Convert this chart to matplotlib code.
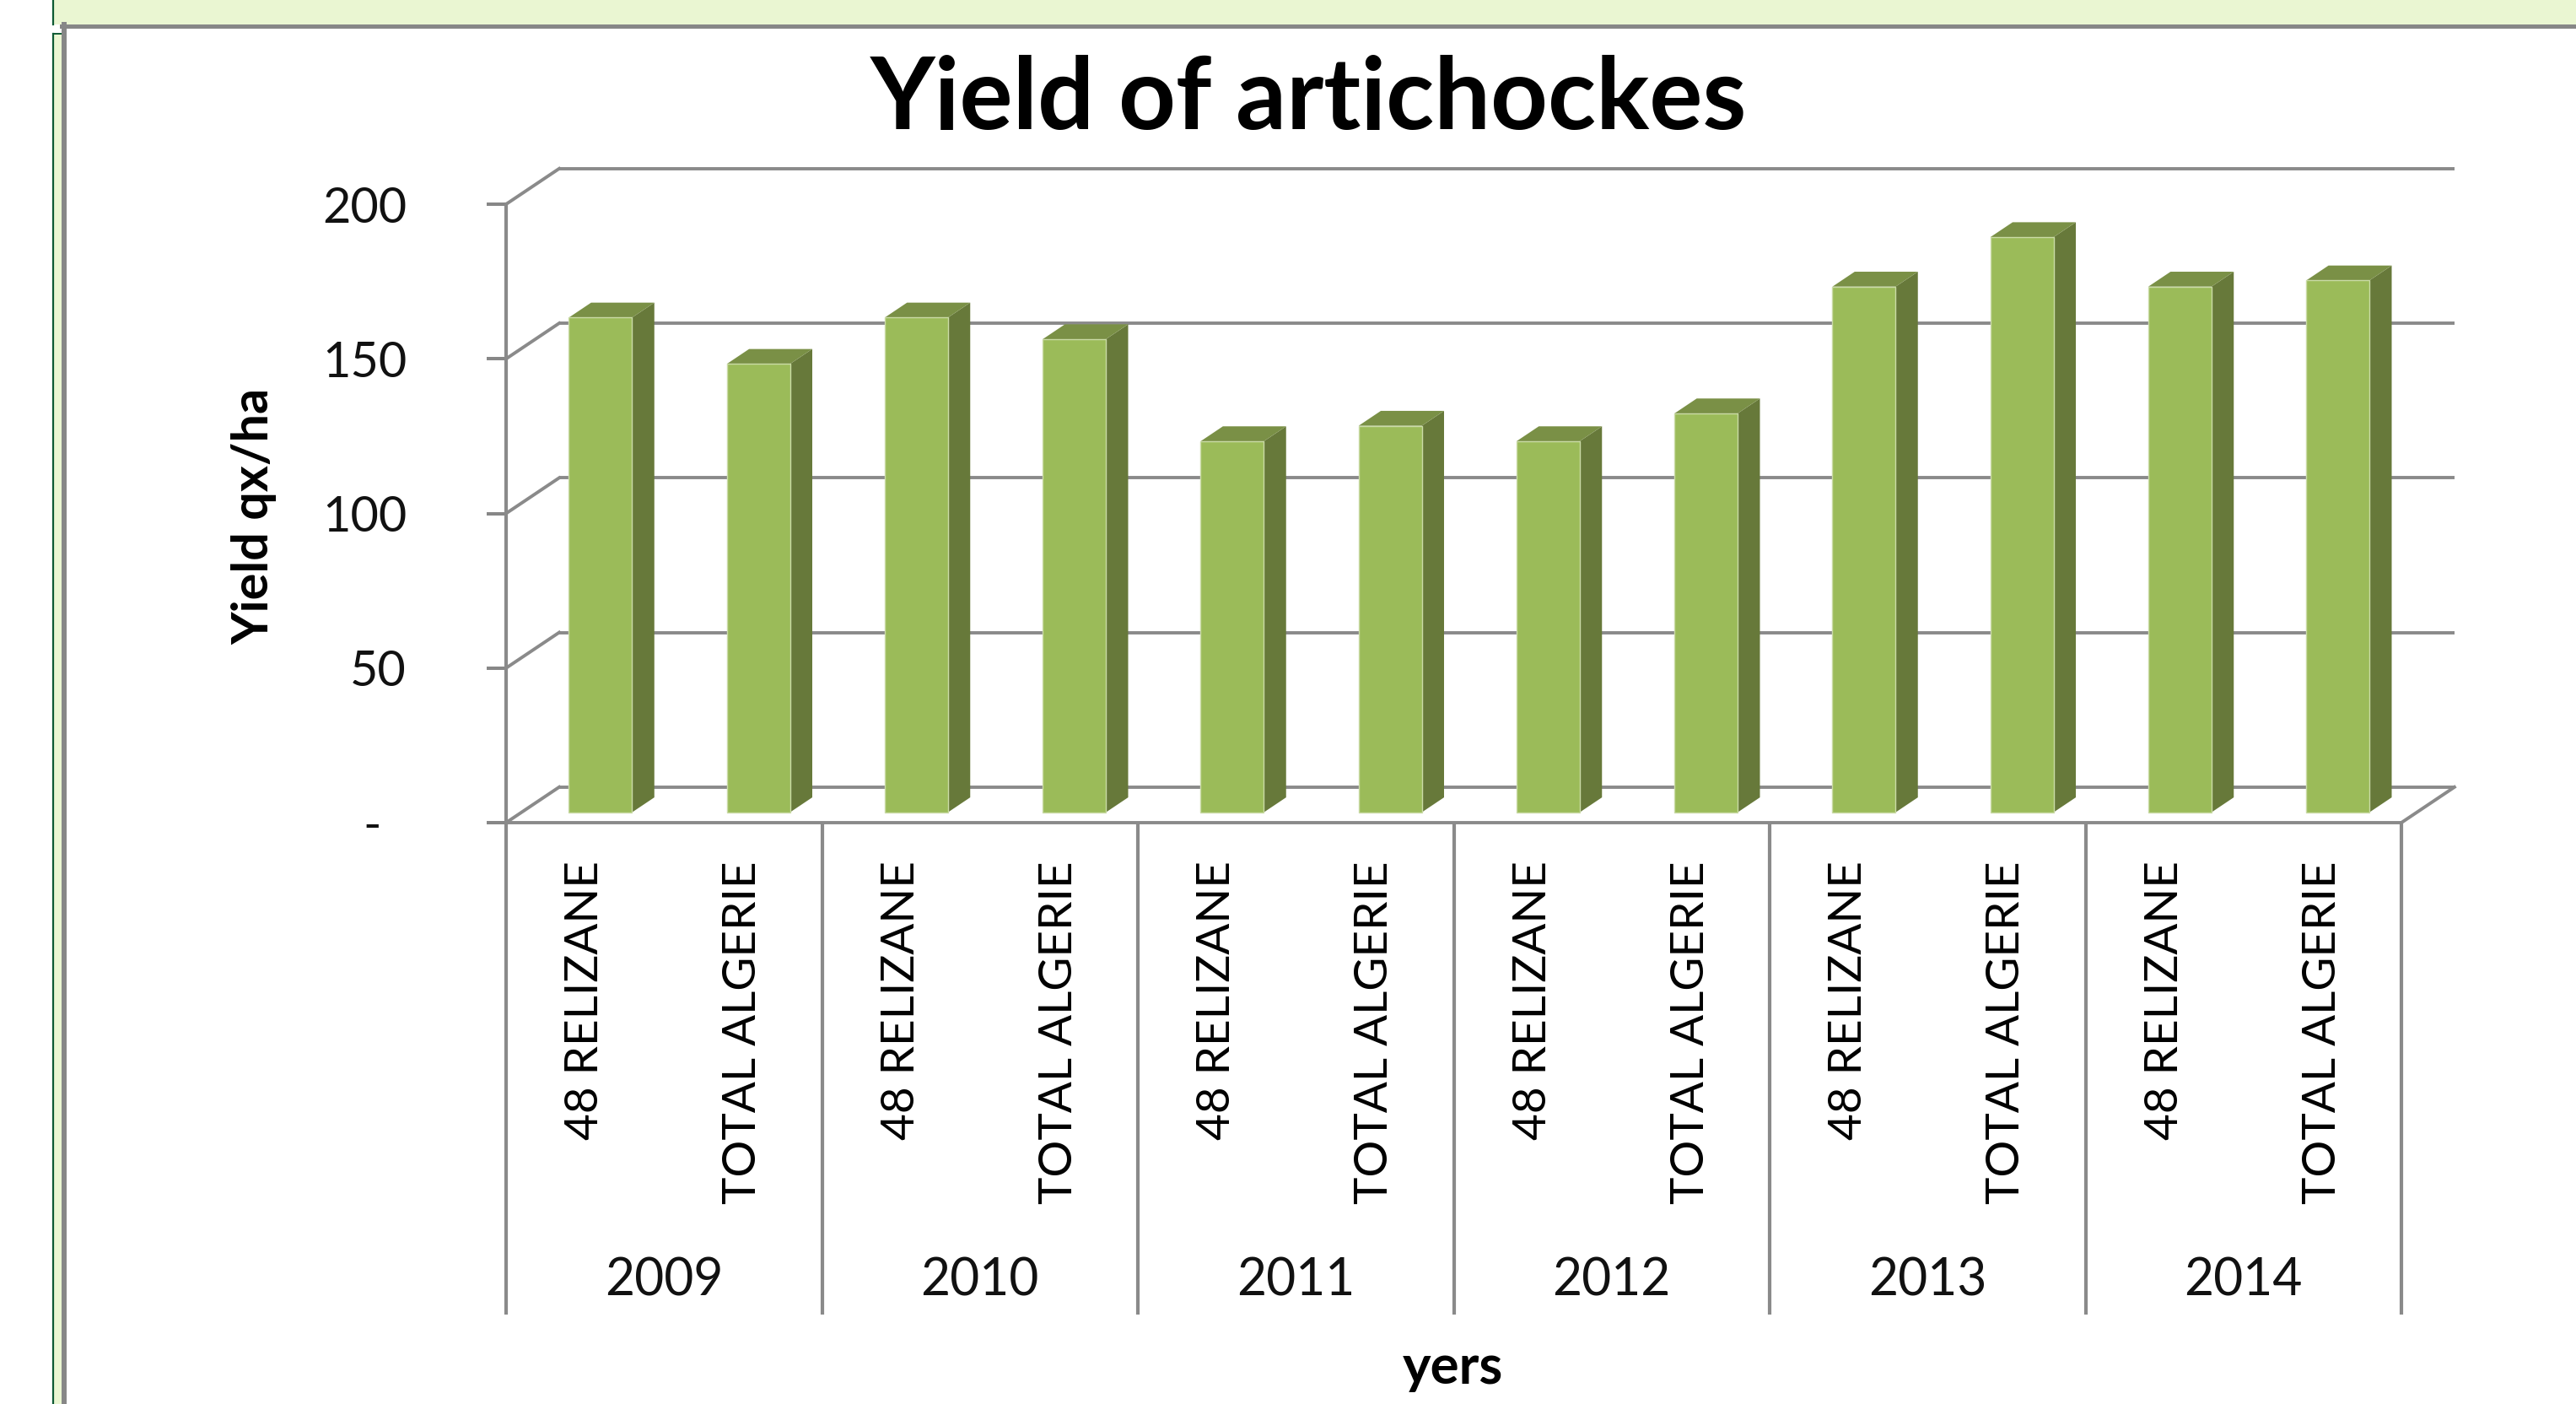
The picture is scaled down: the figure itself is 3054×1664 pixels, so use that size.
import matplotlib
matplotlib.use("Agg")
import matplotlib.pyplot as plt
from matplotlib.patches import Polygon, Rectangle
from matplotlib.lines import Line2D

# ---------------- data ----------------
years = ["2009", "2010", "2011", "2012", "2013", "2014"]
regions = ["48 RELIZANE", "TOTAL ALGERIE"]
relizane = [160, 160, 120, 120, 170, 170]
algerie = [145, 153, 125, 129, 186, 172]
yticks = [0, 50, 100, 150, 200]
ytick_labels = ["-  ", "50", "100", "150", "200"]
title = "Yield of artichockes"
ylabel = "Yield qx/ha"
xlabel = "yers"

plt.rcParams["font.family"] = ["Lato", "DejaVu Sans"]

W, H = 3054, 1664
fig = plt.figure(figsize=(W / 100, H / 100), dpi=100)
fig.patch.set_facecolor("white")


def fx(px):
    return px / W


def fy(py):
    return 1 - py / H


# ---------------- page decorations ----------------
LG = "#EAF6D2"
DG = "#0E5A34"
GR = "#878787"
fig.add_artist(Rectangle((fx(62), fy(29)), fx(W - 62), 29 / H, transform=fig.transFigure,
                         fc=LG, ec="none", zorder=0))
fig.add_artist(Line2D([fx(63), fx(63)], [fy(0), fy(29)], transform=fig.transFigure, color=DG, lw=1.6))
fig.add_artist(Rectangle((fx(63), 0), fx(11), fy(40), transform=fig.transFigure,
                         fc=LG, ec="none", zorder=0))
fig.add_artist(Line2D([fx(63), fx(63)], [0, fy(40)], transform=fig.transFigure, color=DG, lw=1.6))
fig.add_artist(Line2D([fx(63), fx(73)], [fy(40), fy(40)], transform=fig.transFigure, color=DG, lw=1.4))
fig.add_artist(Line2D([fx(73), 1], [fy(31), fy(31)], transform=fig.transFigure, color=GR, lw=3.6))
fig.add_artist(Line2D([fx(76), fx(76)], [0, fy(29)], transform=fig.transFigure, color=GR, lw=4.3))

# ---------------- axes (front plane) ----------------
x_left, x_right, y_base, y_top = 600, 2847, 975, 242
ax = fig.add_axes([fx(x_left), fy(y_base), (x_right - x_left) / W, (y_base - y_top) / H])
n = len(years) * len(regions)
ax.set_xlim(0, n)
ax.set_ylim(0, 200)
ax.patch.set_visible(False)
for s in ax.spines.values():
    s.set_visible(False)
ax.set_xticks([])

DDX, DDY = 0.336, 11.5          # depth offset of back wall (data units)
GRID_C = "#8a8a8a"
LW = 2.8

# back wall gridlines & side wall diagonals
for v in yticks:
    ax.plot([DDX, n + DDX], [v + DDY, v + DDY], color=GRID_C, lw=LW, zorder=1,
            clip_on=False, solid_capstyle="butt")
    ax.plot([0, DDX], [v, v + DDY], color=GRID_C, lw=LW, zorder=1, clip_on=False)
# floor edges
ax.plot([0, n], [0, 0], color=GRID_C, lw=LW, zorder=4, clip_on=False)
ax.plot([n, n + DDX], [0, DDY], color=GRID_C, lw=LW, zorder=4, clip_on=False)
ax.plot([0, 0], [0, 200], color=GRID_C, lw=3.0, zorder=4, clip_on=False)

# bars
FRONT, SIDE, TOP = "#9BBB59", "#67793A", "#7A9046"
bw = 0.40
f0, fd = 0.29, 0.42
vals = []
for r, a in zip(relizane, algerie):
    vals += [r, a]
for i, v in enumerate(vals):
    x0 = i + 0.5 - bw / 2 + f0 * DDX
    y0 = f0 * DDY
    sdx, sdy = fd * DDX, fd * DDY
    ax.add_patch(Polygon([(x0 + bw, y0), (x0 + bw + sdx, y0 + sdy),
                          (x0 + bw + sdx, y0 + v + sdy), (x0 + bw, y0 + v)],
                         closed=True, fc=SIDE, ec="none", zorder=3, clip_on=False))
    ax.add_patch(Polygon([(x0, y0 + v), (x0 + bw, y0 + v), (x0 + bw + sdx, y0 + v + sdy),
                          (x0 + sdx, y0 + v + sdy)],
                         closed=True, fc=TOP, ec="none", zorder=3, clip_on=False))
    ax.add_patch(Rectangle((x0, y0), bw, v, fc=FRONT, ec="#CADBA6", lw=1.0, zorder=3,
                           clip_on=False))

# ---------------- text helpers ----------------
fig.canvas.draw()
rend = fig.canvas.get_renderer()


def fit(t, target, use_height=False):
    bb = t.get_window_extent(rend)
    cur = bb.height if use_height else bb.width
    t.set_fontsize(t.get_fontsize() * target / cur)


PXY = (x_right - x_left) / n     # px per category
PPU = (y_base - y_top) / 200.0   # px per value unit


def dy(py):
    return (y_base - py) / PPU


def dxp(px):
    return (px - x_left) / PXY


# category labels
cat_texts = []
for g in range(len(years)):
    for k, reg in enumerate(regions):
        i = 2 * g + k
        t = ax.text(i + 0.5, dy(1020), reg, rotation=90, ha="center", va="top",
                    fontsize=40, color="black", zorder=5, clip_on=False)
        cat_texts.append(t)
fit(cat_texts[0], 331, use_height=True)
for t in cat_texts[1:]:
    t.set_fontsize(cat_texts[0].get_fontsize())

# separators & year labels
for k in range(0, n + 1, 2):
    ax.plot([k, k], [0, dy(1558)], color=GRID_C, lw=3.0, zorder=4, clip_on=False,
            solid_capstyle="butt")
year_texts = []
for g, yr in enumerate(years):
    t = ax.text(2 * g + 1, dy(1518), yr, ha="center", va="center", fontsize=40,
                color="#111111", clip_on=False)
    year_texts.append(t)
fit(year_texts[0], 140)
for t in year_texts[1:]:
    t.set_fontsize(year_texts[0].get_fontsize())

# axis titles
tx = ax.text(dxp(1722), dy(1640), xlabel, ha="center", va="baseline", fontsize=40,
             fontweight="bold", clip_on=False)
fit(tx, 119)
ty = ax.text(dxp(301), dy(612), ylabel, rotation=90, ha="center", va="center",
             fontsize=40, fontweight="bold", clip_on=False)
fit(ty, 304, use_height=True)
tt = ax.text(dxp(1551), dy(153), title, ha="center", va="baseline", fontsize=80,
             fontweight="bold", clip_on=False)
fit(tt, 1040)

# y ticks
tmp = ax.text(0, 0, "200", fontsize=40)
fit(tmp, 100)
tick_fs = tmp.get_fontsize()
tmp.remove()
ax.set_yticks(yticks)
ax.set_yticklabels(ytick_labels)
ax.tick_params(axis="y", length=23 * 0.72, width=2.9, color=GR, pad=95 * 0.72,
               labelsize=tick_fs, labelcolor="#111111")

fig.savefig("out.png", dpi=100, facecolor="white")
